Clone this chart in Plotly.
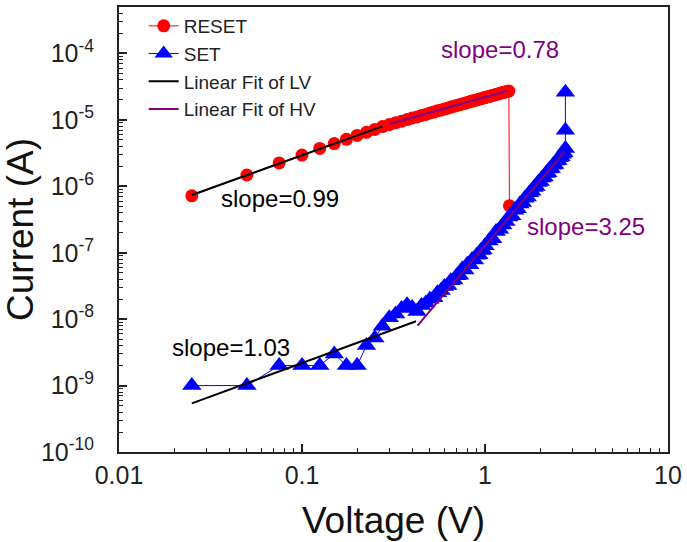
import plotly.graph_objects as go

FONT = "Liberation Sans, Arial, sans-serif"

# ---------------- data ----------------
reset_v = [0.025, 0.05, 0.075, 0.1, 0.125, 0.15, 0.175, 0.2, 0.225, 0.25, 0.275, 0.3,
           0.325, 0.35, 0.375, 0.4, 0.425, 0.45, 0.475, 0.5, 0.525, 0.55, 0.575, 0.6,
           0.625, 0.65, 0.675, 0.7, 0.725, 0.75, 0.775, 0.8, 0.825, 0.85, 0.875, 0.9,
           0.925, 0.95, 0.975, 1.0, 1.025, 1.05, 1.075, 1.1, 1.125, 1.15, 1.175, 1.2,
           1.225, 1.25, 1.275, 1.3, 1.325, 1.35, 1.36]
reset_i = [7.2e-7, 1.48e-6, 2.25e-6, 2.95e-6, 3.72e-6, 4.4e-6, 5.1e-6, 5.85e-6, 6.5e-6,
           7.2e-6, 7.95e-6, 8.5e-6, 9.1e-6, 9.55e-6, 1.01e-5, 1.07e-5, 1.11e-5, 1.17e-5,
           1.21e-5, 1.27e-5, 1.31e-5, 1.37e-5, 1.41e-5, 1.46e-5, 1.5e-5, 1.56e-5, 1.6e-5,
           1.65e-5, 1.69e-5, 1.74e-5, 1.78e-5, 1.83e-5, 1.87e-5, 1.92e-5, 1.96e-5, 2.0e-5,
           2.05e-5, 2.09e-5, 2.13e-5, 2.17e-5, 2.22e-5, 2.25e-5, 2.3e-5, 2.34e-5, 2.38e-5,
           2.42e-5, 2.46e-5, 2.5e-5, 2.54e-5, 2.58e-5, 2.62e-5, 2.66e-5, 2.68e-5, 2.72e-5,
           5.1e-7]

set_v = [0.025, 0.05, 0.075, 0.1, 0.125, 0.15, 0.175, 0.2, 0.225, 0.25, 0.275, 0.3,
         0.325, 0.35, 0.375, 0.4, 0.425, 0.45, 0.475, 0.5, 0.525, 0.55, 0.575, 0.6,
         0.625, 0.65, 0.675, 0.7, 0.725, 0.75, 0.775, 0.8, 0.825, 0.85, 0.875, 0.9,
         0.925, 0.95, 0.975, 1.0, 1.05, 1.1, 1.15, 1.2, 1.25, 1.3, 1.35, 1.4, 1.45, 1.5,
         1.55, 1.6, 1.65, 1.7, 1.75, 1.8, 1.85, 1.9, 1.95, 2.0, 2.05, 2.1, 2.15, 2.2,
         2.25, 2.3, 2.35, 2.4, 2.45, 2.5, 2.55, 2.6, 2.65, 2.7, 2.75, 2.75, 2.75]
set_i = [1.0e-9, 1.0e-9, 2.0e-9, 2.0e-9, 2.0e-9, 3.0e-9, 2.0e-9, 2.0e-9, 4.0e-9, 5.2e-9,
         7.8e-9, 1.05e-8, 1.2e-8, 1.45e-8, 1.65e-8, 1.5e-8, 1.3e-8, 1.6e-8, 1.75e-8, 2.0e-8,
         2.1e-8, 2.5e-8, 2.7e-8, 3.1e-8, 3.2e-8, 3.8e-8, 3.9e-8, 4.5e-8, 4.6e-8, 5.7e-8,
         5.5e-8, 6.7e-8, 6.6e-8, 7.9e-8, 7.8e-8, 9.2e-8, 9.3e-8, 1.08e-7, 1.1e-7, 1.27e-7,
         1.5e-7, 1.63e-7, 2.08e-7, 2.25e-7, 2.62e-7, 2.95e-7, 3.45e-7, 3.6e-7, 4.35e-7, 4.6e-7,
         5.4e-7, 5.7e-7, 6.6e-7, 6.9e-7, 8.0e-7, 8.4e-7, 9.6e-7, 9.9e-7, 1.14e-6, 1.18e-6,
         1.34e-6, 1.38e-6, 1.56e-6, 1.6e-6, 1.82e-6, 1.86e-6, 2.08e-6, 2.14e-6, 2.4e-6, 2.45e-6,
         2.7e-6, 2.78e-6, 3.05e-6, 3.2e-6, 3.7e-6, 7.0e-6, 2.6e-5]

# linear fits (log-log) - endpoints
lv_reset_v = [0.025, 0.275]
lv_reset_i = [7.4e-7, 8.0e-6]
hv_reset_v = [0.30, 1.33]
hv_reset_i = [8.7e-6, 2.75e-5]
lv_set_v = [0.025, 0.42]
lv_set_i = [5.4e-10, 9.3e-9]
hv_set_v = [0.428, 2.73]
hv_set_i = [8.0e-9, 3.37e-6]

# slope labels: (text, log10 V, log10 I, colour)
slope_labels = [
    ("slope=0.99", -1.122, -6.18, "#000000"),
    ("slope=0.78", 0.080, -3.94, "#800080"),
    ("slope=3.25", 0.552, -6.60, "#800080"),
    ("slope=1.03", -1.388, -8.43, "#000000"),
]

x_tickvals = [0.01, 0.1, 1, 10]
x_ticktext = ["0.01", "0.1", "1", "10"]
y_exponents = [-10, -9, -8, -7, -6, -5, -4]

# ---------------- figure ----------------
fig = go.Figure()

fig.add_trace(go.Scatter(
    x=reset_v, y=reset_i, mode="lines+markers", name="RESET",
    line=dict(color="#ff0000", width=1),
    marker=dict(symbol="circle", size=13, color="#ff0000"),
))
fig.add_trace(go.Scatter(
    x=set_v, y=set_i, mode="lines+markers", name="SET",
    line=dict(color="#0000ff", width=1),
    marker=dict(symbol="triangle-up", size=17, color="#0000ff"),
))
fig.add_trace(go.Scatter(
    x=lv_reset_v, y=lv_reset_i, mode="lines", name="Linear Fit of LV",
    legendgroup="lv", line=dict(color="#000000", width=2),
))
fig.add_trace(go.Scatter(
    x=lv_set_v, y=lv_set_i, mode="lines", name="Linear Fit of LV",
    legendgroup="lv", showlegend=False, line=dict(color="#000000", width=2),
))
fig.add_trace(go.Scatter(
    x=hv_reset_v, y=hv_reset_i, mode="lines", name="Linear Fit of HV",
    legendgroup="hv", line=dict(color="#800080", width=2),
))
fig.add_trace(go.Scatter(
    x=hv_set_v, y=hv_set_i, mode="lines", name="Linear Fit of HV",
    legendgroup="hv", showlegend=False, line=dict(color="#800080", width=2),
))

for txt, lx, ly, col in slope_labels:
    fig.add_annotation(x=lx, y=ly, xref="x", yref="y", text=txt, showarrow=False,
                       font=dict(family=FONT, size=24, color=col),
                       xanchor="center", yanchor="middle")

x_minor = [m * 10 ** e for e in range(-2, 1) for m in range(2, 10)]
y_minor = [m * 10 ** e for e in range(-10, -3) for m in range(2, 10)]

fig.update_xaxes(
    type="log", range=[-2, 1],
    tickmode="array", tickvals=x_tickvals, ticktext=x_ticktext,
    ticks="inside", ticklen=8, tickwidth=1.5, tickcolor="#222",
    minor=dict(tickmode="array", tickvals=x_minor, ticks="inside", ticklen=4,
               tickwidth=1.2, tickcolor="#222", showgrid=False),
    showline=True, linecolor="#222", linewidth=2, mirror=True,
    showgrid=False, zeroline=False,
    tickfont=dict(family=FONT, size=25, color="#222"),
    ticklabelstandoff=0,
    title=dict(text="Voltage (V)", font=dict(family=FONT, size=37, color="#111"), standoff=19),
)
fig.update_yaxes(
    type="log", range=[-10, -3.3],
    tickmode="array", tickvals=[10.0 ** e for e in y_exponents],
    ticktext=[f"10<sup>{e}</sup>" for e in y_exponents],
    ticks="inside", ticklen=8, tickwidth=1.5, tickcolor="#222",
    minor=dict(tickmode="array", tickvals=y_minor, ticks="inside", ticklen=4,
               tickwidth=1.2, tickcolor="#222", showgrid=False),
    showline=True, linecolor="#222", linewidth=2, mirror=True,
    showgrid=False, zeroline=False,
    tickfont=dict(family=FONT, size=25, color="#222"),
    ticklabelstandoff=18,
    title=dict(text="Current (A)", font=dict(family=FONT, size=37, color="#111"), standoff=5),
)

fig.update_layout(
    width=687, height=542,
    margin=dict(l=119, r=15, t=5, b=90),
    paper_bgcolor="white", plot_bgcolor="white",
    font=dict(family=FONT, color="#222"),
    legend=dict(x=0.045, y=1.0, xanchor="left", yanchor="top",
                bgcolor="rgba(0,0,0,0)", font=dict(family=FONT, size=19, color="#222"),
                tracegroupgap=0, itemwidth=30),
    showlegend=True,
)

fig.write_html("out.html")
